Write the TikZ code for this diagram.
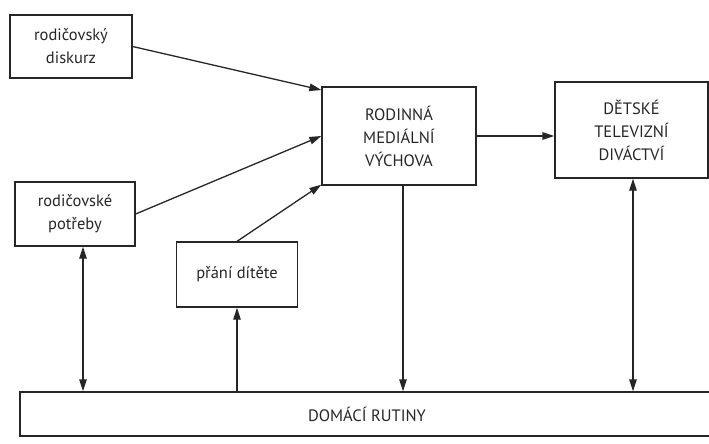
\documentclass[tikz,border=0pt]{standalone}
\usepackage{fontspec}
\setmainfont{PT Sans}
\usetikzlibrary{arrows.meta,calc}
\definecolor{ink}{HTML}{262626}
\tikzset{
  box/.style={draw=ink, line width=1.3pt, align=center, inner sep=0pt, text=ink,
    font=\fontsize{16.5}{23}\selectfont},
  capbox/.style={box, font=\fontsize{16.5}{23}\selectfont},
  link/.style={draw=ink, line width=1.3pt, -{Triangle[length=12pt,width=7.5pt]}},
  blink/.style={draw=ink, line width=1.3pt, {Triangle[length=12pt,width=7.5pt]}-{Triangle[length=12pt,width=7.5pt]}}
}
\begin{document}
\begin{tikzpicture}[x=1pt,y=-1pt]
\useasboundingbox (0,0) rectangle (709,444);
\node[box, minimum width=122pt, minimum height=63pt] (disk) at (71,46.5) {rodičovský\\diskurz};
\node[box, minimum width=120pt, minimum height=64pt] (potr) at (75,214) {rodičovské\\potřeby};
\node[box, minimum width=121pt, minimum height=65pt] (prani) at (237,274.5) {přání dítěte};
\node[capbox, minimum width=154pt, minimum height=98pt] (rmv) at (399,136) {RODINNÁ\\MEDIÁLNÍ\\VÝCHOVA};
\node[capbox, minimum width=153pt, minimum height=96pt] (dtd) at (631.5,130) {DĚTSKÉ\\TELEVIZNÍ\\DIVÁCTVÍ};
\node[capbox, minimum width=694pt, minimum height=44pt] (rut) at (367,414) {DOMÁCÍ RUTINY};
\draw[link] (disk.east) -- (rmv.north west |- 0,90);
\draw[link] (potr.east) -- (rmv.west);
\draw[link] (prani.north) -- ($(rmv.south west)+(0,-1)$);
\draw[link] (rmv.east) -- (dtd.west |- rmv.east);
\draw[link] (rmv.south -| 403,0) -- (rut.north -| 403,0);
\draw[blink] (dtd.south -| 633,0) -- (rut.north -| 633,0);
\draw[blink] (potr.south -| 83,0) -- (rut.north -| 83,0);
\draw[link] (rut.north -| prani.north) -- (prani.south);
\end{tikzpicture}
\end{document}
